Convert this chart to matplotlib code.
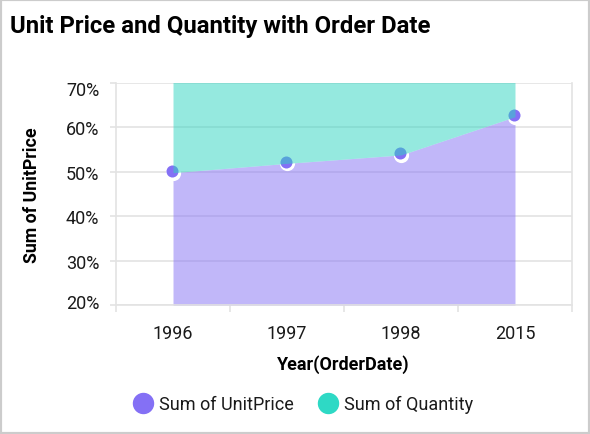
import numpy as np
import matplotlib.pyplot as plt
from matplotlib.lines import Line2D
from matplotlib.patches import Rectangle
import matplotlib.transforms as mtransforms

plt.rcParams['font.family'] = ['Roboto', 'DejaVu Sans']

# Data (share of total, in %)
years = ['1996', '1997', '1998', '2015']
unit_price = [49.8, 51.9, 53.8, 62.4]
quantity = [50.2, 48.1, 46.2, 37.6]

purple = '#8470f5'
teal = '#2dd5c1'
grid_col = '#e3e3e3'
text_col = '#1a1a1a'

fig = plt.figure(figsize=(5.9, 4.35), dpi=100)
ax = fig.add_axes([116/590, 1-306/435, (572-116)/590, (306-84)/435])

x = np.arange(len(years))
top_purple = np.array(unit_price)
top_teal = top_purple + np.array(quantity)

ax.fill_between(x, 0, top_purple, color=purple, alpha=0.5, lw=0, zorder=2)

# markers: white ring at point, purple dot nudged up-left
ax.scatter(x, top_purple, s=120, color='white', zorder=3, lw=0)
shift = mtransforms.offset_copy(ax.transData, fig=fig, x=-1, y=1.5, units='dots')
ax.scatter(x, top_purple, s=75, color=purple, zorder=3.1, lw=0, transform=shift)

ax.fill_between(x, top_purple, top_teal, color=teal, alpha=0.5, lw=0, zorder=4)

ax.set_xlim(-0.5, 3.5)
ax.set_ylim(20, 70)
ax.set_yticks(np.arange(20, 71, 10))
ax.set_yticklabels([f'{v}%' for v in range(20, 71, 10)])
ax.set_xticks(x)
ax.set_xticklabels(years)
ax.set_xticks(np.arange(-0.5, 3.6, 1), minor=True)

ax.grid(axis='y', color=grid_col, lw=1.2, zorder=0)
ax.set_axisbelow(True)
ax.tick_params(axis='x', which='major', length=0, pad=14, labelsize=13, colors=text_col)
ax.tick_params(axis='x', which='minor', length=5, width=1.2, color=grid_col)
ax.tick_params(axis='y', length=4, width=1.2, color=grid_col, pad=8, labelsize=13, labelcolor=text_col)

# edge labels are pulled inside the plot area
ylabels = ax.get_yticklabels()
ylabels[0].set_transform(ylabels[0].get_transform() +
                         mtransforms.ScaledTranslation(0, 4/100, fig.dpi_scale_trans))
ylabels[-1].set_transform(ylabels[-1].get_transform() +
                          mtransforms.ScaledTranslation(0, -5/100, fig.dpi_scale_trans))

for side in ['left', 'bottom', 'right']:
    ax.spines[side].set_color(grid_col)
    ax.spines[side].set_linewidth(1.2)
ax.spines['top'].set_visible(False)

fig.text(10/590, 1-27/435, 'Unit Price and Quantity with Order Date',
         fontsize=17.2, fontweight='bold', color='black', va='center', ha='left')
fig.text(32/590, 1-195/435, 'Sum of UnitPrice', rotation=90, fontsize=12.8,
         fontweight='bold', color='black', va='center', ha='center')
fig.text(343/590, 1-365/435, 'Year(OrderDate)', fontsize=13,
         fontweight='bold', color='black', va='center', ha='center')

handles = [Line2D([], [], marker='o', ls='', markersize=14.4, color=purple, label='Sum of UnitPrice'),
           Line2D([], [], marker='o', ls='', markersize=14.4, color='#2ed9c5', label='Sum of Quantity')]
fig.legend(handles=handles, loc='center', bbox_to_anchor=(303/590, 1-405/435), ncol=2,
           frameon=False, fontsize=13, handletextpad=0.33, columnspacing=1.38,
           handlelength=1.1, labelcolor=text_col)

fig.patches.append(Rectangle((0, 0), 1, 1, transform=fig.transFigure, fill=False,
                             edgecolor='#cccccc', lw=3))

fig.savefig('out.png', dpi=100)
